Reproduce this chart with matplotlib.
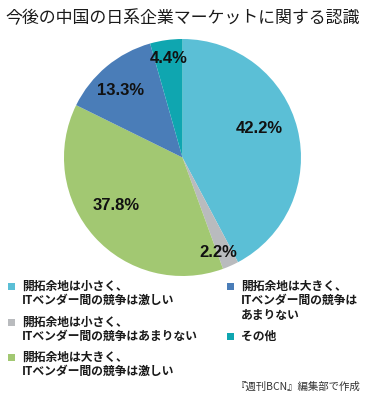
import matplotlib
matplotlib.use("Agg")
import matplotlib.pyplot as plt
from matplotlib.patches import Rectangle

plt.rcParams["font.family"] = ["Noto Sans CJK JP", "DejaVu Sans"]

# data
categories = [
    "開拓余地は小さく、\nITベンダー間の競争は激しい",
    "開拓余地は小さく、\nITベンダー間の競争はあまりない",
    "開拓余地は大きく、\nITベンダー間の競争は激しい",
    "開拓余地は大きく、\nITベンダー間の競争は\nあまりない",
    "その他",
]
shares = [42.2, 2.2, 37.8, 13.3, 4.4]
colors = ["#5bbfd6", "#b9bbbe", "#a2c872", "#4a7db8", "#0fa6b0"]

# label placement inside the unit pie
label_xy = [(0.65, 0.245), (0.30, -0.80), (-0.56, -0.405), (-0.52, 0.565), (-0.12, 0.835)]

W, H = 365, 400
fig = plt.figure(figsize=(3.65, 4.0), dpi=100)
fig.patch.set_facecolor("white")

fig.text(0.5, 1 - 18 / H, "今後の中国の日系企業マーケットに関する認識",
         ha="center", va="center", fontsize=12.2, color="#1a1a1a")

ax = fig.add_axes([0.1753, 0.31, 0.6493, 0.5925])
wedges, _ = ax.pie(shares, colors=colors, startangle=90, counterclock=False,
                   wedgeprops=dict(linewidth=0))
ax.set_xlim(-1, 1)
ax.set_ylim(-1, 1)
ax.set_aspect("equal")

for v, (x, y) in zip(shares, label_xy):
    ax.text(x, y, f"{v:.1f}%", ha="center", va="center", fontsize=12,
            fontweight="bold", family=["Liberation Sans", "DejaVu Sans"], color="#111111")

# legend, drawn by hand so the swatch sits on the first line (pixel layout)
legend_pos = [(8, 286), (8, 322), (8, 357), (227, 286), (227, 336)]
line_step = 14.5
for lab, col, (lx, ly) in zip(categories, colors, legend_pos):
    fig.patches.append(Rectangle((lx / W, 1 - (ly + 3.5) / H), 7 / W, 7 / H,
                                 transform=fig.transFigure, facecolor=col,
                                 edgecolor="none", figure=fig))
    for i, line in enumerate(lab.split("\n")):
        fig.text((lx + 14) / W, 1 - (ly + i * line_step) / H, line, ha="left",
                 va="center", fontsize=8.5, fontweight="bold", color="#1a1a1a")

fig.text(360 / W, 1 - 387 / H, "『週刊BCN』編集部で作成", ha="right", va="center",
         fontsize=7.5, color="#333333")

fig.savefig("out.png", dpi=100, facecolor="white")
